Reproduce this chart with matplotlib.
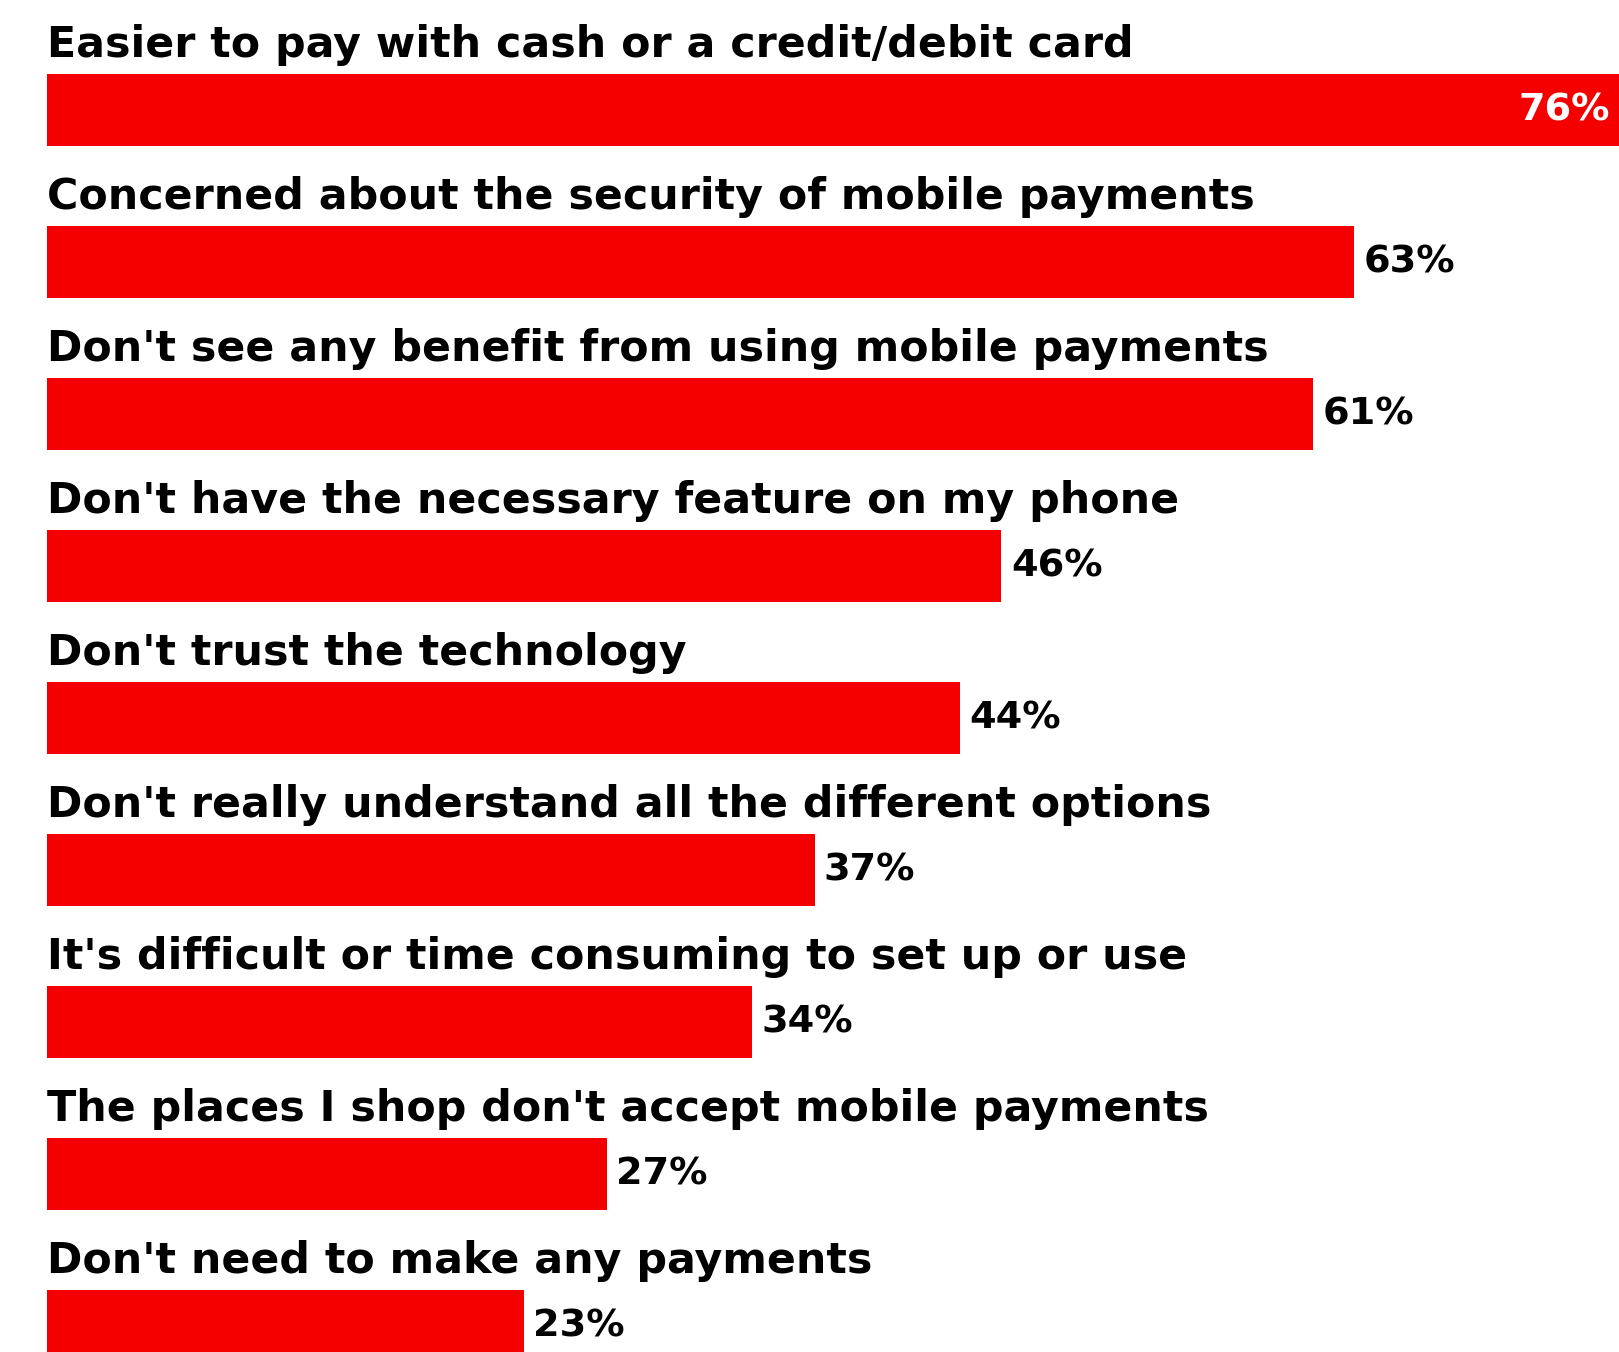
import matplotlib.pyplot as plt

# Reasons for not using mobile payments (% of respondents)
reasons = [
    "Easier to pay with cash or a credit/debit card",
    "Concerned about the security of mobile payments",
    "Don't see any benefit from using mobile payments",
    "Don't have the necessary feature on my phone",
    "Don't trust the technology",
    "Don't really understand all the different options",
    "It's difficult or time consuming to set up or use",
    "The places I shop don't accept mobile payments",
    "Don't need to make any payments",
]
shares = [76, 63, 61, 46, 44, 37, 34, 27, 23]

BAR_RED = "#f50000"

fig = plt.figure(figsize=(16.19, 13.52), dpi=100)
ax = fig.add_axes([0, 0, 1, 1])

ypos = list(range(len(reasons)))
ax.barh(ypos, shares, height=0.472, left=0, color=BAR_RED, edgecolor="none")

for y, name, val in zip(ypos, reasons, shares):
    ax.text(0, y - 0.351, name, ha="left", va="baseline",
            fontsize=30.8, fontweight="bold", family="DejaVu Sans", color="black")
    if val >= 70:
        ax.text(val - 0.7, y, f"{val}%", ha="right", va="center",
                fontsize=27.5, fontweight="bold", family="DejaVu Sans", color="white")
    else:
        ax.text(val + 0.45, y, f"{val}%", ha="left", va="center",
                fontsize=27.5, fontweight="bold", family="DejaVu Sans", color="black")

ax.set_xlim(-2.24, 75.75)
ax.set_ylim(8.17, -0.725)
ax.axis("off")

fig.savefig("out.png", dpi=100, facecolor="white")
